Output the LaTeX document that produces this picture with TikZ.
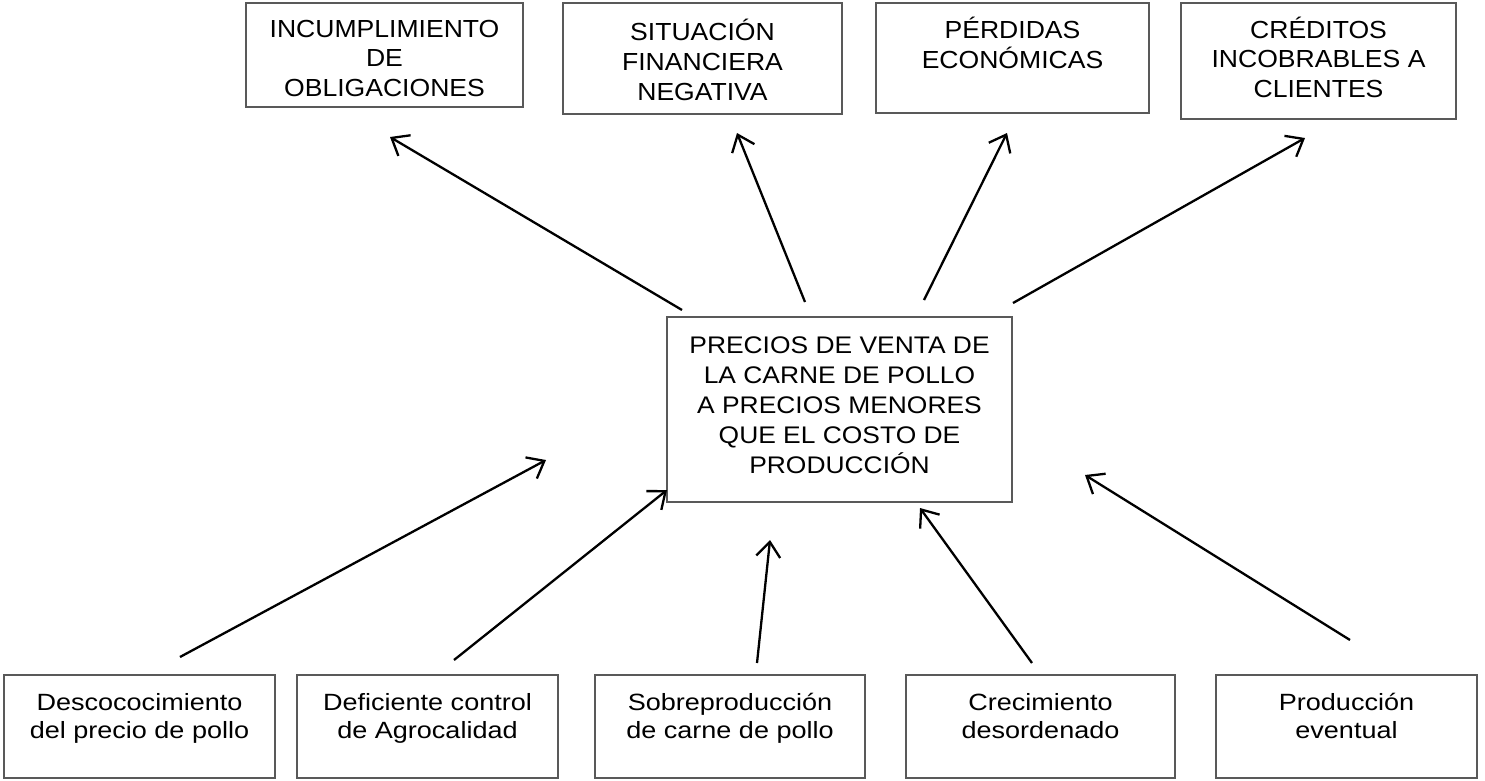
\documentclass[tikz,border=0pt]{standalone}
\usepackage{fontspec}
\usetikzlibrary{arrows.meta}
\newfontfamily\topf[FakeStretch=1.075]{Liberation Sans}
\newfontfamily\cenf[FakeStretch=1.1]{Liberation Sans}
\newfontfamily\botf[FakeStretch=1.15]{Liberation Sans}
\tikzset{
  box/.style={draw=black!65, line width=2pt, inner sep=0pt, fill=white},
  toptxt/.style={align=center, anchor=base, inner sep=0pt, font=\topf\fontsize{24.7}{29.5}\selectfont},
  centxt/.style={align=center, anchor=base, inner sep=0pt, font=\cenf\fontsize{24}{30}\selectfont},
  bottxt/.style={align=center, anchor=base, inner sep=0pt, font=\botf\fontsize{23.5}{28}\selectfont},
  arr/.style={line width=2.3pt, -{Straight Barb[length=15pt,width=24pt,line width=2.3pt]}}
}
\begin{document}
\begin{tikzpicture}[x=1pt,y=-1pt]
\useasboundingbox (0,0) rectangle (1485,780);
\fill[white] (0,0) rectangle (1485,780);
% top boxes
\node[box, minimum width=277pt, minimum height=104pt] (t1) at (384.5,55) {};
\node[box, minimum width=279pt, minimum height=111pt] (t2) at (702.5,58.5) {};
\node[box, minimum width=273pt, minimum height=110pt] (t3) at (1012.5,58) {};
\node[box, minimum width=275pt, minimum height=116pt] (t4) at (1318.5,61) {};
\node[toptxt] (t1txt) at (384.5,96) {INCUMPLIMIENTO\\DE\\OBLIGACIONES};
\node[toptxt, font=\topf\fontsize{24.7}{30}\selectfont] (t2txt) at (702.5,100) {SITUACIÓN\\FINANCIERA\\NEGATIVA};
\node[toptxt, font=\topf\fontsize{24.7}{30}\selectfont] (t3txt) at (1012.5,68) {PÉRDIDAS\\ECONÓMICAS};
\node[toptxt] (t4txt) at (1318.5,97) {CRÉDITOS\\INCOBRABLES A\\CLIENTES};
% center
\node[box, minimum width=345pt, minimum height=185pt] (c) at (839.5,409.5) {};
\node[centxt] (ctxt) at (839.5,473) {PRECIOS DE VENTA DE\\LA CARNE DE POLLO\\A PRECIOS MENORES\\QUE EL COSTO DE\\PRODUCCIÓN};
% bottom boxes
\node[box, minimum width=271pt, minimum height=103pt] (b1) at (139.5,726.5) {};
\node[box, minimum width=261pt, minimum height=103pt] (b2) at (427.5,726.5) {};
\node[box, minimum width=270pt, minimum height=103pt] (b3) at (730,726.5) {};
\node[box, minimum width=269pt, minimum height=103pt] (b4) at (1040.5,726.5) {};
\node[box, minimum width=261pt, minimum height=103pt] (b5) at (1346.5,726.5) {};
\node[bottxt] (b1txt) at (139.5,738) {Descococimiento\\del precio de pollo};
\node[bottxt] (b2txt) at (427.5,738) {Deficiente control\\de Agrocalidad};
\node[bottxt] (b3txt) at (730,738) {Sobreproducción\\de carne de pollo};
\node[bottxt] (b4txt) at (1040.5,738) {Crecimiento\\desordenado};
\node[bottxt] (b5txt) at (1346.5,738) {Producción\\eventual};
% arrow end points
\coordinate (a1s) at (682,310); \coordinate (a1e) at (390,137);
\coordinate (a2s) at (805,302); \coordinate (a2e) at (737,133);
\coordinate (a3s) at (924,300); \coordinate (a3e) at (1007,133);
\coordinate (a4s) at (1013,303); \coordinate (a4e) at (1305,138);
\coordinate (c1s) at (180,657); \coordinate (c1e) at (546,460);
\coordinate (c2s) at (454,660); \coordinate (c2e) at (667,490);
\coordinate (c3s) at (757,663); \coordinate (c3e) at (770,540);
\coordinate (c4s) at (1032,663); \coordinate (c4e) at (920,508);
\coordinate (c5s) at (1350,640); \coordinate (c5e) at (1085,475);
\foreach \n in {a1,a2,a3,a4,c1,c2,c3,c4,c5}{\draw[arr] (\n s) -- (\n e);}
\end{tikzpicture}
\end{document}
